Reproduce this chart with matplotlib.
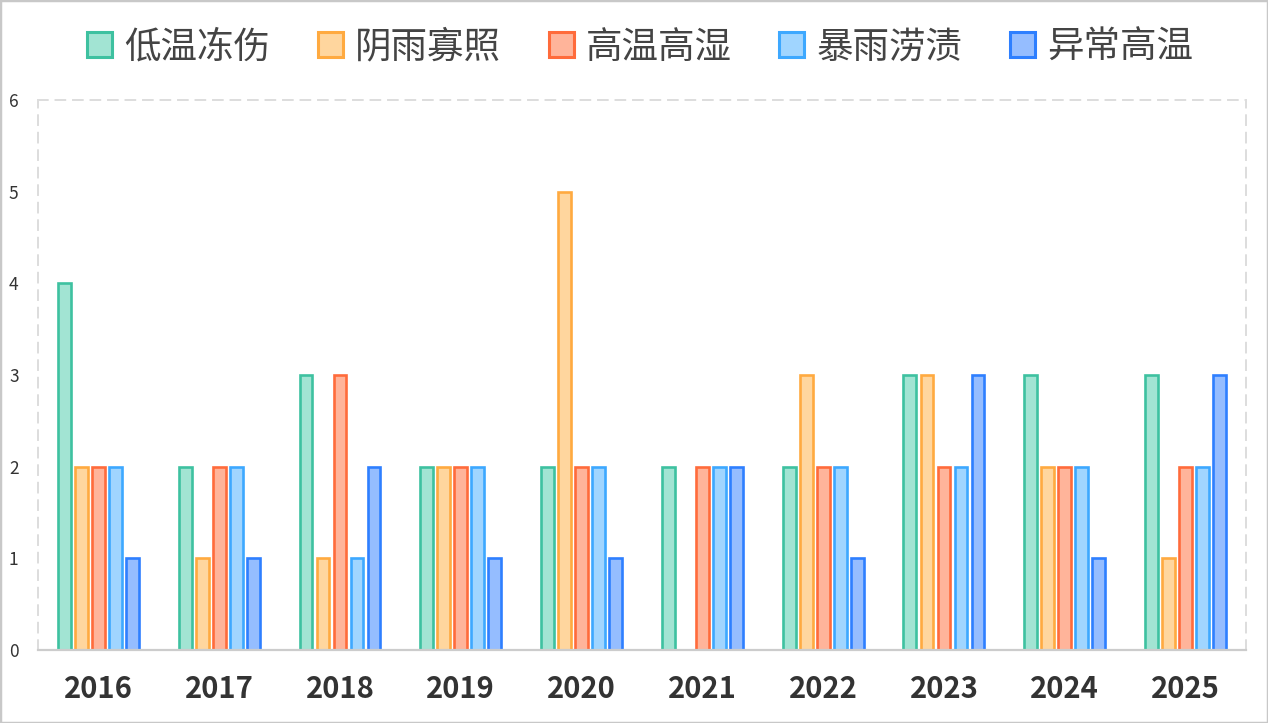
import matplotlib
matplotlib.use("Agg")
import matplotlib.pyplot as plt
from matplotlib.patches import Patch, Rectangle
import numpy as np

plt.rcParams['font.family'] = ['Noto Sans CJK SC', 'DejaVu Sans']

years = ['2016', '2017', '2018', '2019', '2020', '2021', '2022', '2023', '2024', '2025']
series_names = ['低温冻伤', '阴雨寡照', '高温高湿', '暴雨涝渍', '异常高温']
low_temp = [4, 2, 3, 2, 2, 2, 2, 3, 3, 3]
rainy = [2, 1, 1, 2, 5, 0, 3, 3, 2, 1]
hot_humid = [2, 2, 3, 2, 2, 2, 2, 2, 2, 2]
storm = [2, 2, 1, 2, 2, 2, 2, 2, 2, 2]
heat = [1, 1, 2, 1, 1, 2, 1, 3, 1, 3]
series_values = [low_temp, rainy, hot_humid, storm, heat]

edge_colors = ['#3EC1A0', '#FFAA40', '#FF6B3B', '#3DA8FF', '#2E7FFF']
fill_colors = ['#A2E4D3', '#FFD69E', '#FFB49A', '#A0D5FF', '#95BDFF']

fig = plt.figure(figsize=(12.68, 7.23), dpi=100)
ax = fig.add_axes([0.030, 0.101, 0.9526, 0.7607])

x = np.arange(len(years))
step = 0.141
width = 0.106
handles = []
for i, (name, vals) in enumerate(zip(series_names, series_values)):
    off = (i - 2) * step
    ax.bar(x + off, vals, width=width, facecolor=fill_colors[i],
           edgecolor=edge_colors[i], linewidth=1.9, zorder=3)
    handles.append(Patch(facecolor=fill_colors[i], edgecolor=edge_colors[i],
                         linewidth=2.2, label=name))

ax.set_xlim(-0.5, len(years) - 0.5)
ax.set_ylim(0, 6)
ax.set_yticks(range(0, 7))
ax.set_xticks(x)
ax.set_xticklabels(years, fontsize=21, fontweight='bold', color='#333333')
ax.tick_params(axis='x', length=0, pad=17)
ax.tick_params(axis='y', length=0, pad=14, labelsize=12.5, labelcolor='#333333')

for side in ['left', 'top', 'right']:
    ax.spines[side].set_color('#DDDDDD')
    ax.spines[side].set_linestyle((0, (5, 4)))
    ax.spines[side].set_linewidth(1.4)
ax.spines['bottom'].set_color('#CCCCCC')
ax.spines['bottom'].set_linewidth(1.6)
ax.spines['bottom'].set_zorder(4)

leg = fig.legend(handles=handles, loc='center', bbox_to_anchor=(0.505, 0.934),
                 ncol=5, frameon=False, fontsize=26.3,
                 handlelength=0.68, handleheight=0.68, handletextpad=0.34,
                 columnspacing=1.3, borderaxespad=0)
for t in leg.get_texts():
    t.set_color('#444444')

fig.patches.append(Rectangle((0, 0), 1, 1, transform=fig.transFigure,
                             fill=False, edgecolor='#C8C8C8', linewidth=2.5))

fig.savefig('out.png', dpi=100)
